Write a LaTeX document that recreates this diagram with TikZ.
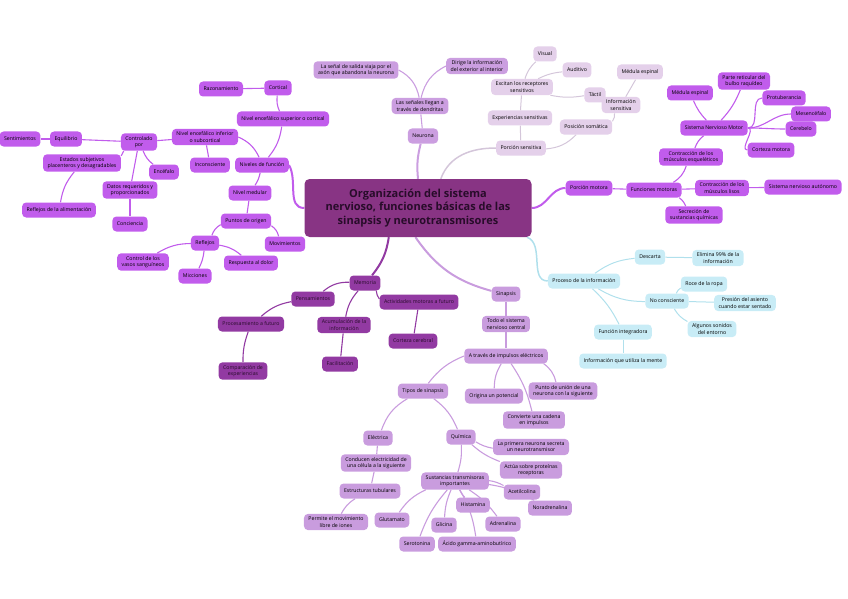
\documentclass[tikz,border=0pt]{standalone}
\usepackage{fontspec}
\setmainfont{Open Sans}
\usepackage{xcolor}
\usepackage{tikz}
\usetikzlibrary{positioning,backgrounds}

\definecolor{rootfill}{RGB}{136,52,132}
\definecolor{rootink}{RGB}{40,12,42}
\definecolor{vivid}{RGB}{193,92,236}
\definecolor{lilac}{RGB}{203,158,224}
\definecolor{mist}{RGB}{228,208,234}
\definecolor{mistline}{RGB}{212,198,218}
\definecolor{sky}{RGB}{200,236,246}
\definecolor{skyline}{RGB}{176,224,236}
\definecolor{plum}{RGB}{146,58,162}
\definecolor{orchid}{RGB}{201,156,222}

\begin{document}
\begin{tikzpicture}[
    x=1pt, y=-1pt,
    every node/.style={font=\fontsize{5.2}{6.2}\selectfont, text=black},
    box/.style={rectangle, rounded corners=4pt, align=center,
                inner xsep=4.5pt, inner ysep=3pt, minimum height=15pt},
    root/.style={box, fill=rootfill, text=rootink, rounded corners=5pt,
                 font=\fontsize{11}{13.5}\selectfont\bfseries,
                 minimum width=227pt, minimum height=58pt},
    vv/.style={box, fill=vivid},
    lc/.style={box, fill=lilac},
    ms/.style={box, fill=mist},
    sk/.style={box, fill=sky},
    pl/.style={box, fill=plum, text=rootink},
    oc/.style={box, fill=orchid},
    lvv/.style={draw=vivid, line width=1.1pt},
    llc/.style={draw=lilac, line width=1.1pt},
    lms/.style={draw=mistline, line width=1pt},
    lsk/.style={draw=skyline, line width=1pt},
    lpl/.style={draw=plum, line width=1.1pt},
    loc/.style={draw=orchid, line width=1.1pt}
]
\useasboundingbox (0,0) rectangle (848,599);

% centre
\node[root] (root) at (418,208) {Organización del sistema\\nervioso, funciones básicas de las\\sinapsis y neurotransmisores};

% niveles de funcion
\node[vv] (nivf) at (262,165) {Niveles de función};
\node[vv] (nsup) at (283,119) {Nivel encefálico superior o cortical};
\node[vv] (cort) at (278,88)  {Cortical};
\node[vv] (razo) at (221,89)  {Razonamiento};
\node[vv] (ninf) at (205,137) {Nivel encefálico inferior\\o subcortical};
\node[vv] (inco) at (210,165) {Inconsciente};
\node[vv] (ctrl) at (139,142) {Controlado\\por};
\node[vv] (equi) at (66,139)  {Equilibrio};
\node[vv] (sent) at (20,139)  {Sentimientos};
\node[vv] (esta) at (82,163)  {Estados subjetivos\\placenteros y desagradables};
\node[vv] (ence) at (164,172) {Encéfalo};
\node[vv] (dato) at (130,190) {Datos requeridos y\\proporcionados};
\node[vv] (conc) at (130,224) {Conciencia};
\node[vv] (rali) at (59,210)  {Reflejos de la alimentación};
\node[vv] (nmed) at (250,193) {Nivel medular};
\node[vv] (pori) at (246,221) {Puntos de origen};
\node[vv] (movi) at (285,244) {Movimientos};
\node[vv] (refl) at (205,243) {Reflejos};
\node[vv] (vaso) at (143,262) {Control de los\\vasos sanguíneos};
\node[vv] (micc) at (195,276) {Micciones};
\node[vv] (dolo) at (251,263) {Respuesta al dolor};

% neurona
\node[lc] (neur)  at (423,136) {Neurona};
\node[lc] (llega) at (420,106) {Las señales llegan a\\través de dendritas};
\node[lc] (sali)  at (356,70)  {La señal de salida viaja por el\\axón que abandona la neurona};
\node[lc] (diri)  at (477,66)  {Dirige la información\\del exterior al interior};

% porcion sensitiva
\node[ms] (psen) at (521,148) {Porción sensitiva};
\node[ms] (expe) at (520,118) {Experiencias sensitivas};
\node[ms] (exci) at (522,87)  {Excitan los receptores\\sensitivos};
\node[ms] (visu) at (545,54)  {Visual};
\node[ms] (audi) at (577,70)  {Auditivo};
\node[ms] (tact) at (595,95)  {Táctil};
\node[ms] (posi) at (586,127) {Posición somática};
\node[ms] (info) at (621,105) {Información\\sensitiva};
\node[ms] (mesp) at (640,72)  {Médula espinal};

% porcion motora
\node[vv] (pmot)  at (589,188) {Porción motora};
\node[vv] (fmot)  at (654,190) {Funciones motoras};
\node[vv] (cesq)  at (691,157) {Contracción de los\\músculos esqueléticos};
\node[vv] (snm)   at (714,128) {Sistema Nervioso Motor};
\node[vv] (mesp2) at (690,93)  {Médula espinal};
\node[vv] (pret)  at (744,81)  {Parte reticular del\\bulbo raquídeo};
\node[vv] (prot)  at (784,98)  {Protuberancia};
\node[vv] (mese)  at (811,114) {Mesencéfalo};
\node[vv] (cere)  at (801,129) {Cerebelo};
\node[vv] (cmot)  at (771,150) {Corteza motora};
\node[vv] (clis)  at (722,188) {Contracción de los\\músculos lisos};
\node[vv] (sna)   at (803,187) {Sistema nervioso autónomo};
\node[vv] (secr)  at (694,215) {Secreción de\\sustancias químicas};

% proceso de la informacion
\node[sk] (proc) at (584,281) {Proceso de la información};
\node[sk] (desc) at (650,257) {Descarta};
\node[sk] (elim) at (718,258) {Elimina 99\% de la\\información};
\node[sk] (ncon) at (667,301) {No consciente};
\node[sk] (roce) at (704,284) {Roce de la ropa};
\node[sk] (pres) at (745,303) {Presión del asiento\\cuando estar sentado};
\node[sk] (soni) at (712,329) {Algunos sonidos\\del entorno};
\node[sk] (fint) at (623,332) {Función integradora};
\node[sk] (iuti) at (623,361) {Información que utiliza la mente};

% memoria
\node[pl] (memo) at (365,283) {Memoria};
\node[pl] (pens) at (313,299) {Pensamientos};
\node[pl] (pfut) at (251,324) {Procesamiento a futuro};
\node[pl] (comp) at (243,371) {Comparación de\\experiencias};
\node[pl] (acum) at (344,325) {Acumulación de la\\información};
\node[pl] (faci) at (340,364) {Facilitación};
\node[pl] (amot) at (419,302) {Actividades motoras a futuro};
\node[pl] (ccer) at (413,341) {Corteza cerebral};

% sinapsis
\node[oc] (sina) at (506,294) {Sinapsis};
\node[oc] (todo) at (506,324) {Todo el sistema\\nervioso central};
\node[oc] (atra) at (506,356) {A través de impulsos eléctricos};
\node[oc] (orig) at (494,396) {Origina un potencial};
\node[oc] (punt) at (563,391) {Punto de unión de una\\neurona con la siguiente};
\node[oc] (conv) at (534,420) {Convierte una cadena\\en impulsos};
\node[oc] (tipo) at (423,391) {Tipos de sinapsis};
\node[oc] (elec) at (378,438) {Eléctrica};
\node[oc] (cond) at (376,463) {Conducen electricidad de\\una célula a la siguiente};
\node[oc] (estr) at (370,491) {Estructuras tubulares};
\node[oc] (perm) at (336,522) {Permite el movimiento\\libre de iones};
\node[oc] (quim) at (461,437) {Química};
\node[oc] (prim) at (531,447) {La primera neurona secreta\\un neurotransmisor};
\node[oc] (actu) at (531,470) {Actúa sobre proteínas\\receptoras};
\node[oc] (sust) at (455,481) {Sustancias transmisoras\\importantes};
\node[oc] (acet) at (522,492) {Acetilcolina};
\node[oc] (hist) at (473,505) {Histamina};
\node[oc] (nora) at (550,508) {Noradrenalina};
\node[oc] (adre) at (503,524) {Adrenalina};
\node[oc] (glut) at (392,520) {Glutamato};
\node[oc] (glic) at (444,525) {Glicina};
\node[oc] (sero) at (417,544) {Serotonina};
\node[oc] (gaba) at (477,544) {Ácido gamma-aminobutírico};

\begin{scope}[on background layer]
% links, niveles
\draw[lvv, line width=2pt] (root.west) to[out=180,in=-60] (nivf.east);
\draw[lvv] (nivf) to[bend right=15] (nsup);
\draw[lvv] (nsup) to[bend left=15] (cort);
\draw[lvv] (cort) -- (razo);
\draw[lvv] (nivf) to[bend right=20] (ninf.east);
\draw[lvv] (ninf) -- (inco);
\draw[lvv] (ninf) -- (ctrl);
\draw[lvv] (ctrl) -- (equi);
\draw[lvv] (equi) -- (sent);
\draw[lvv] (ctrl) to[bend left=10] (esta);
\draw[lvv] (esta) to[bend right=15] (rali);
\draw[lvv] (ctrl) to[bend right=15] (ence);
\draw[lvv] (ctrl) -- (dato);
\draw[lvv] (dato) -- (conc);
\draw[lvv] (nivf) to[bend left=10] (nmed);
\draw[lvv] (nmed) -- (pori);
\draw[lvv] (pori) to[bend left=20] (movi);
\draw[lvv] (pori) to[bend right=20] (refl);
\draw[lvv] (refl) to[bend right=15] (vaso);
\draw[lvv] (refl) to[bend left=10] (micc);
\draw[lvv] (refl) to[bend left=15] (dolo);

% links, neurona
\draw[llc, line width=2pt] (root.north) to[bend left=10] (neur);
\draw[llc] (neur) -- (llega);
\draw[llc] (llega) to[bend right=25] (sali.east);
\draw[llc] (llega) to[bend left=25] (diri.west);

% links, sensitiva
\draw[lms, line width=1.5pt] (root.52) to[out=70,in=180] (psen.west);
\draw[lms] (psen) -- (expe);
\draw[lms] (expe) -- (exci);
\draw[lms] (exci) to[bend left=15] (visu);
\draw[lms] (exci) to[bend left=10] (audi);
\draw[lms] (exci) to[bend right=10] (tact);
\draw[lms] (psen) to[bend right=20] (posi);
\draw[lms] (posi) to[bend right=20] (info);
\draw[lms] (info) -- (mesp);

% links, motora
\draw[lvv, line width=2pt] (root.east) to[out=0,in=180] (pmot.west);
\draw[lvv] (pmot) -- (fmot);
\draw[lvv] (fmot) to[bend right=20] (cesq);
\draw[lvv] (cesq) to[bend left=15] (snm);
\draw[lvv] (snm) to[bend left=10] (mesp2);
\draw[lvv] (snm) to[bend right=10] (pret);
\draw[lvv] (snm.east) to[out=0,in=180] (prot.west);
\draw[lvv] (snm.east) to[out=0,in=180] (mese.west);
\draw[lvv] (snm.east) to[out=0,in=180] (cere.west);
\draw[lvv] (snm.east) to[out=0,in=180] (cmot.west);
\draw[lvv] (fmot) -- (clis);
\draw[lvv] (clis) -- (sna);
\draw[lvv] (fmot) to[bend left=15] (secr);

% links, proceso
\draw[lsk, line width=1.5pt] (root.-15) to[out=-20,in=180] (proc.west);
\draw[lsk] (proc) to[bend left=15] (desc);
\draw[lsk] (desc) -- (elim);
\draw[lsk] (proc) to[bend right=15] (ncon);
\draw[lsk] (ncon) to[bend left=15] (roce);
\draw[lsk] (ncon) -- (pres);
\draw[lsk] (ncon) to[bend right=15] (soni);
\draw[lsk] (proc) to[bend left=10] (fint);
\draw[lsk] (fint) -- (iuti);

% links, memoria
\draw[lpl, line width=2pt] (root.-135) to[bend left=15] (memo);
\draw[lpl] (memo) to[bend right=20] (pens);
\draw[lpl] (pens) to[bend right=15] (pfut);
\draw[lpl] (pfut) to[bend right=10] (comp);
\draw[lpl] (memo) to[bend right=15] (acum);
\draw[lpl] (acum) -- (faci);
\draw[lpl] (memo) to[bend right=15] (amot);
\draw[lpl] (amot) -- (ccer);

% links, sinapsis
\draw[loc, line width=2pt] (root.-95) to[bend right=20] (sina);
\draw[loc] (sina) -- (todo);
\draw[loc] (todo) -- (atra);
\draw[loc] (atra) to[bend right=15] (orig);
\draw[loc] (atra) to[bend left=20] (punt);
\draw[loc] (atra) to[bend left=10] (conv);
\draw[loc] (atra.west) to[bend right=15] (tipo);
\draw[loc] (tipo) to[bend right=20] (elec);
\draw[loc] (elec) -- (cond);
\draw[loc] (cond) -- (estr);
\draw[loc] (estr) to[bend right=15] (perm);
\draw[loc] (tipo) to[bend left=15] (quim);
\draw[loc] (quim) to[bend right=10] (prim);
\draw[loc] (quim) to[bend right=10] (actu);
\draw[loc] (quim) to[bend left=10] (sust);
\draw[loc] (sust) to[bend left=10] (acet);
\draw[loc] (sust) to[bend right=10] (hist);
\draw[loc] (sust) to[bend left=10] (nora);
\draw[loc] (sust) to[bend left=10] (adre);
\draw[loc] (sust) to[bend right=15] (glut);
\draw[loc] (sust) to[bend right=10] (glic);
\draw[loc] (sust) to[bend right=10] (sero);
\draw[loc] (sust) to[bend left=10] (gaba);
\end{scope}
\end{tikzpicture}
\end{document}
